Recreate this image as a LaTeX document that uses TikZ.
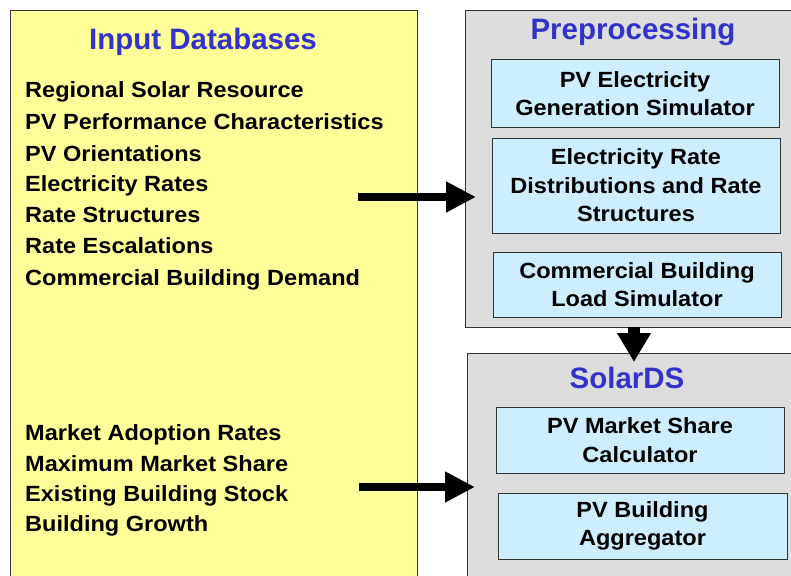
\documentclass[tikz,border=0pt]{standalone}
\usepackage{fontspec}
\setmainfont{Liberation Sans}
\newfontfamily\widefont[FakeStretch=1.07]{Liberation Sans}
\usetikzlibrary{arrows.meta}
\definecolor{padyellow}{HTML}{FFFF99}
\definecolor{padgray}{HTML}{DDDDDD}
\definecolor{boxblue}{HTML}{CCEEFF}
\definecolor{titleblue}{HTML}{3333CC}
\definecolor{edgegray}{HTML}{333333}
\tikzset{
  panel/.style={draw=edgegray, line width=1pt},
  titletext/.style={font=\fontsize{29.5}{32}\selectfont\bfseries, text=titleblue, inner sep=0pt},
  listitem/.style={font=\widefont\fontsize{22}{25}\selectfont\bfseries, anchor=base west, inner sep=0pt},
  modbox/.style={draw=edgegray, line width=1pt, fill=boxblue, inner sep=0pt, align=center,
    font=\widefont\fontsize{22}{28.5}\selectfont\bfseries, minimum width=288pt},
  bigarrow/.style={line width=8pt, -{Triangle[length=30pt,width=29pt]}},
  downarrow/.style={line width=12pt, -{Triangle[length=29pt,width=32pt]}}
}
\begin{document}
\begin{tikzpicture}[x=1pt,y=-1pt]
\useasboundingbox (0,0) rectangle (791,575);
% panels
\fill[white] (0,0) rectangle (791,575);
\fill[padyellow] (10,11) rectangle (417,590);
\draw[panel] (10,590) -- (10,11) -- (417,11) -- (417,590);
\fill[padgray] (465,11) rectangle (800,327);
\draw[panel] (800,11) -- (465,11) -- (465,327) -- (800,327);
\fill[padgray] (467,353) rectangle (800,590);
\draw[panel] (800,353) -- (467,353) -- (467,590);
% titles
\node[titletext] (tin) at (203,42) {Input Databases};
\node[titletext] (tpre) at (633,32) {Preprocessing};
\node[titletext] (tsol) at (627,378) {SolarDS};
% list
\node[listitem] (l1) at (25,98) {Regional Solar Resource};
\node[listitem] (l2) at (25,129) {PV Performance Characteristics};
\node[listitem] (l3) at (25,161) {PV Orientations};
\node[listitem] (l4) at (25,191) {Electricity Rates};
\node[listitem] (l5) at (25,222) {Rate Structures};
\node[listitem] (l6) at (25,253) {Rate Escalations};
\node[listitem] (l7) at (25,285) {Commercial Building Demand};
\node[listitem] (m1) at (25,440) {Market Adoption Rates};
\node[listitem] (m2) at (25,471) {Maximum Market Share};
\node[listitem] (m3) at (25,501) {Existing Building Stock};
\node[listitem] (m4) at (25,531) {Building Growth};
% modules
\node[modbox, minimum height=67pt] (b1) at (635,93.5) {PV Electricity\\Generation Simulator};
\node[modbox, minimum height=95pt] (b2) at (636,185.5) {Electricity Rate\\Distributions and Rate\\Structures};
\node[modbox, minimum height=65pt] (b3) at (637,284.5) {Commercial Building\\Load Simulator};
\node[modbox, minimum height=66pt] (b4) at (640,440) {PV Market Share\\Calculator};
\node[modbox, minimum height=66pt, minimum width=289pt] (b5) at (642.5,526) {PV Building\\Aggregator};
% arrows
\coordinate (a1s) at (358,197);
\coordinate (a1e) at (476,197);
\coordinate (a2s) at (359,487);
\coordinate (a2e) at (475,487);
\coordinate (a3s) at (634,327);
\coordinate (a3e) at (634,362);
\draw[bigarrow] (a1s) -- (a1e);
\draw[bigarrow] (a2s) -- (a2e);
\draw[downarrow] (a3s) -- (a3e);
\end{tikzpicture}
\end{document}
